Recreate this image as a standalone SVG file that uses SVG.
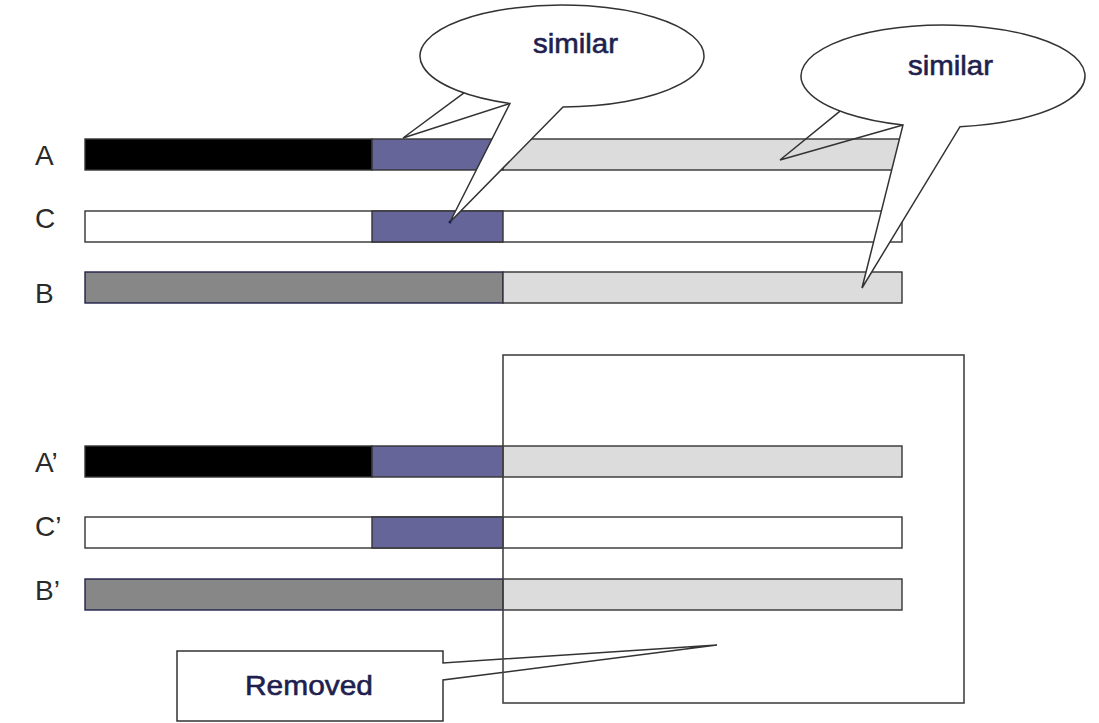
<svg xmlns="http://www.w3.org/2000/svg" width="1099" height="723" viewBox="0 0 1099 723">
<style>
.lbl{font-family:"Liberation Sans",Arial,sans-serif;font-size:28px;fill:#2a2a2a}
.ctext{font-family:"Liberation Sans",Arial,sans-serif;font-size:28px;fill:#1f1f4f;stroke:#1f1f4f;stroke-width:0.6}
.seg{stroke:#333;stroke-width:1.4}
.blk{fill:#000}
.blu{fill:#65659a}
.lgr{fill:#dcdcdc}
.gry{fill:#878787;stroke:#22224a}
.wht{fill:#fff}
.callout{fill:#fff;stroke:#333;stroke-width:1.5;stroke-linejoin:miter}
.tail{fill:none;stroke:#333;stroke-width:1.5}
</style>
<rect width="1099" height="723" fill="#fff"/>

<g id="bar-A">
  <text class="lbl" x="35" y="165">A</text>
  <rect class="seg blk" x="85" y="139" width="287" height="31"/>
  <rect class="seg blu" x="372" y="139" width="131" height="31"/>
  <rect class="seg lgr" x="503" y="139" width="399" height="31"/>
</g>
<g id="bar-C">
  <text class="lbl" x="35" y="228">C</text>
  <rect class="seg wht" x="85" y="211" width="817" height="31"/>
  <rect class="seg blu" x="372" y="211" width="131" height="31"/>
</g>
<g id="bar-B">
  <text class="lbl" x="35" y="303">B</text>
  <rect class="seg gry" x="85" y="272" width="418" height="31"/>
  <rect class="seg lgr" x="503" y="272" width="399" height="31"/>
</g>

<g id="bar-A2">
  <text class="lbl" x="35" y="472">A’</text>
  <rect class="seg blk" x="85" y="446" width="287" height="31"/>
  <rect class="seg blu" x="372" y="446" width="131" height="31"/>
  <rect class="seg lgr" x="503" y="446" width="399" height="31"/>
</g>
<g id="bar-C2">
  <text class="lbl" x="35" y="536">C’</text>
  <rect class="seg wht" x="85" y="517" width="817" height="31"/>
  <rect class="seg blu" x="372" y="517" width="131" height="31"/>
</g>
<g id="bar-B2">
  <text class="lbl" x="35" y="600">B’</text>
  <rect class="seg gry" x="85" y="579" width="418" height="31"/>
  <rect class="seg lgr" x="503" y="579" width="399" height="31"/>
</g>

<g id="callout-similar-1">
  <polyline class="tail" points="464,92.9 403,138 510,103.46"/>
  <path class="callout" d="M563,107 A142 51 0 1 0 510,103.46 L450,222 Z"/>
  <circle cx="450" cy="222" r="1.5" fill="#1f1f4f"/>
  <text class="ctext" x="533" y="53" textLength="85" lengthAdjust="spacingAndGlyphs">similar</text>
</g>

<g id="callout-similar-2">
  <polyline class="tail" points="840,111.1 780,160 903,124.93"/>
  <path class="callout" d="M960,126.63 A142 51 0 1 0 903,124.93 L862,288 Z"/>
  <text class="ctext" x="908" y="75" textLength="85" lengthAdjust="spacingAndGlyphs">similar</text>
</g>

<g id="callout-removed">
  <path class="callout" d="M177,651 L443,651 L443,663 L717,645 L443,680 L443,721 L177,721 Z"/>
  <text class="ctext" x="245" y="695" textLength="128" lengthAdjust="spacingAndGlyphs">Removed</text>
</g>

<g id="removed-region">
  <rect x="503" y="355" width="461" height="348" fill="none" stroke="#444" stroke-width="1.6"/>
</g>
</svg>
